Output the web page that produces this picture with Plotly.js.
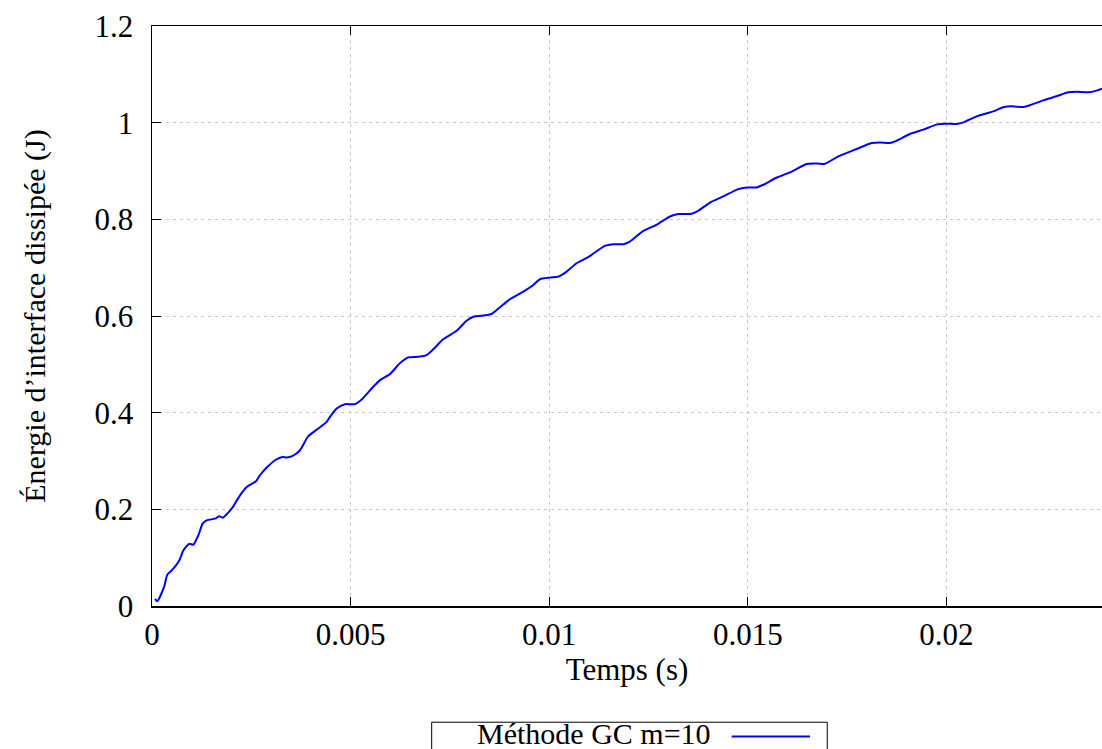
<!DOCTYPE html>
<html>
<head>
<meta charset="utf-8">
<script src="https://cdn.plot.ly/plotly-3.0.1.min.js"></script>
<style>html,body{margin:0;padding:0;background:#fff;overflow:hidden}</style>
</head>
<body>
<div id="chart" style="width:1102px;height:749px"></div>
<script>
const seriesName = "Méthode GC m=10";
const time = [0.000075,0.000133,0.000302,0.000385,0.000496,0.000687,0.000788,0.000939,0.00104,0.001166,0.001276,0.001377,0.001586,0.001694,0.00178,0.001896,0.002047,0.002216,0.002384,0.002618,0.002719,0.002888,0.003139,0.00329,0.003391,0.003542,0.003726,0.003935,0.004187,0.004398,0.00448,0.00465,0.00486,0.00511,0.00528,0.00557,0.00574,0.00599,0.00624,0.00645,0.00670,0.00691,0.00708,0.00733,0.00767,0.00792,0.00809,0.00838,0.00855,0.00876,0.00901,0.00935,0.00960,0.00977,0.01002,0.01023,0.01044,0.01069,0.01098,0.01140,0.01161,0.01187,0.01203,0.01237,0.01270,0.01304,0.01325,0.01358,0.01375,0.01405,0.01438,0.01476,0.01497,0.01522,0.01539,0.01573,0.01606,0.01648,0.01665,0.01694,0.01728,0.01774,0.01812,0.01833,0.01858,0.01875,0.01908,0.01942,0.01975,0.01996,0.02026,0.02043,0.02076,0.02118,0.02143,0.02164,0.02194,0.02210,0.02244,0.02277,0.02307,0.02328,0.02357,0.02378,0.02392];
const energy = [0.0149,0.0099,0.039,0.0647,0.0736,0.0943,0.1150,0.1289,0.1268,0.1461,0.1704,0.1772,0.1807,0.1855,0.1828,0.1911,0.2062,0.2290,0.2462,0.2580,0.2705,0.2864,0.3036,0.3084,0.3072,0.3105,0.3223,0.3513,0.3673,0.3809,0.3913,0.4087,0.4176,0.4176,0.4273,0.4535,0.4674,0.4798,0.5020,0.5144,0.5157,0.5192,0.5310,0.5517,0.5695,0.5903,0.5985,0.6014,0.6041,0.6180,0.6346,0.6504,0.6642,0.6761,0.6794,0.6815,0.6918,0.7092,0.7217,0.7451,0.7486,0.7486,0.7540,0.7762,0.7886,0.8058,0.8108,0.8114,0.8176,0.8348,0.8473,0.8626,0.8659,0.8659,0.8715,0.8866,0.8970,0.9144,0.9157,0.9150,0.9302,0.9455,0.9579,0.9592,0.9579,0.9627,0.9766,0.9855,0.9959,0.9979,0.9973,1.0006,1.0131,1.0234,1.0317,1.0338,1.0325,1.0359,1.0462,1.0545,1.0628,1.0642,1.0628,1.0663,1.0705];
const xTickVals = [0,0.005,0.01,0.015,0.02];
const xTickText = ["0","0.005","0.01","0.015","0.02"];
const yTickVals = [0,0.2,0.4,0.6,0.8,1,1.2];
const yTickText = ["0","0.2","0.4","0.6","0.8","1","1.2"];
const xTitle = "Temps (s)";
const yTitle = "Énergie d’interface dissipée (J)";

const FONT = "Liberation Serif, Times New Roman, serif";
const FS = 31;

const trace = {
  x: time, y: energy, type: "scatter", mode: "lines", name: seriesName,
  line: {color: "#0000ff", width: 2, shape: "spline", smoothing: 0.6},
  showlegend: false
};

const layout = {
  width: 1102, height: 749,
  margin: {l: 152, r: 0, t: 26, b: 143, pad: 0},
  paper_bgcolor: "#ffffff", plot_bgcolor: "#ffffff",
  font: {family: FONT, size: FS, color: "#000"},
  showlegend: false,
  xaxis: {
    range: [0, 0.023917], tickvals: xTickVals, ticktext: xTickText,
    ticks: "inside", ticklen: 9, tickwidth: 1, tickcolor: "#000",
    showline: true, linecolor: "#000", linewidth: 1.5, mirror: "ticks",
    showgrid: true, gridcolor: "#c8c8c8", gridwidth: 1, griddash: "3px,4px",
    zeroline: false, ticklabelstandoff: 0,
    tickfont: {family: FONT, size: FS, color: "#000"},
    title: {text: xTitle, font: {family: FONT, size: FS, color: "#000"}, standoff: 0},
    automargin: false
  },
  yaxis: {
    range: [0, 1.2], tickvals: yTickVals, ticktext: yTickText,
    ticks: "inside", ticklen: 9, tickwidth: 1, tickcolor: "#000",
    showline: true, linecolor: "#000", linewidth: 1.5, mirror: false,
    showgrid: true, gridcolor: "#c8c8c8", gridwidth: 1, griddash: "3px,4px",
    zeroline: false, ticklabelstandoff: 11,
    tickfont: {family: FONT, size: FS, color: "#000"},
    title: {text: yTitle, font: {family: FONT, size: 30, color: "#000"}, standoff: 40},
    automargin: false
  },
  shapes: [
    {type: "rect", xref: "paper", yref: "paper", x0: 0.2944, x1: 0.7108, y0: -0.2004, y1: -0.27,
     line: {color: "#000", width: 1}, fillcolor: "rgba(0,0,0,0)"},
    {type: "line", xref: "paper", yref: "paper", x0: 0.6102, x1: 0.6926, y0: -0.2249, y1: -0.2249,
     line: {color: "#0000ff", width: 2}}
  ],
  annotations: [
    {xref: "paper", yref: "paper", x: 0.5905, y: -0.2466, xanchor: "right", yanchor: "bottom",
     yshift: -3, text: seriesName, showarrow: false, font: {family: FONT, size: 30, color: "#000"}}
  ]
};

Plotly.newPlot("chart", [trace], layout, {staticPlot: true, displayModeBar: false});
</script>
</body>
</html>
